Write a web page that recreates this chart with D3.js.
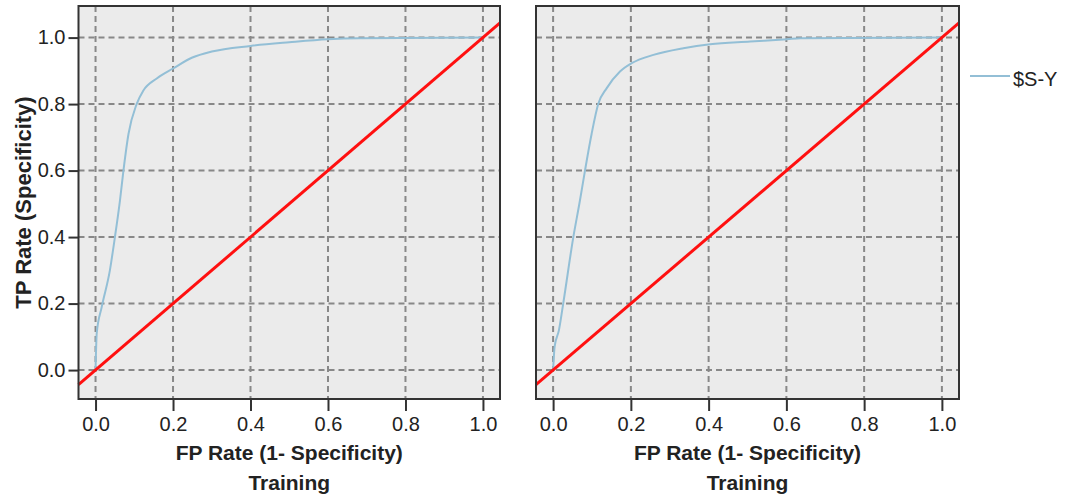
<!DOCTYPE html>
<html>
<head>
<meta charset="utf-8">
<script src="https://cdn.jsdelivr.net/npm/d3@7"></script>
<style>
    body { margin: 0; background: #fff; }
    svg { display: block; font-family: "Liberation Sans", Arial, sans-serif; }
</style>
</head>
<body>
<div id="chart"></div>
<script>
// ROC points (FP rate, TP rate)
const fprLeft  = [0, 0.003, 0.016, 0.037, 0.050, 0.063, 0.072, 0.085, 0.106, 0.123, 0.158, 0.200, 0.250, 0.300, 0.400, 0.500, 0.600, 0.680, 1.0];
const tprLeft  = [0, 0.110, 0.190, 0.300, 0.400, 0.510, 0.600, 0.710, 0.800, 0.840, 0.877, 0.907, 0.940, 0.958, 0.975, 0.986, 0.995, 0.998, 1.0];
const fprRight = [0, 0.004, 0.015, 0.026, 0.052, 0.069, 0.082, 0.099, 0.116, 0.138, 0.172, 0.202, 0.258, 0.335, 0.404, 0.507, 0.602, 0.636, 1.0];
const tprRight = [0, 0.071, 0.120, 0.200, 0.400, 0.510, 0.600, 0.710, 0.800, 0.848, 0.898, 0.923, 0.948, 0.968, 0.980, 0.988, 0.995, 0.998, 1.0];

const xTicks = [0, 0.2, 0.4, 0.6, 0.8, 1.0];
const yTicks = [0, 0.2, 0.4, 0.6, 0.8, 1.0];
const seriesName = "$S-Y";
const xTitle = "FP Rate (1- Specificity)";
const yTitle = "TP Rate (Specificity)";
const panelTitle = "Training";

const width = 1068, height = 496;
const plotTop = 6, plotBottom = 399;

const svg = d3.select("#chart").append("svg")
    .attr("width", width)
    .attr("height", height);

const y = d3.scaleLinear()
    .domain([-0.087, 1.095])
    .range([plotBottom, plotTop]);

createPanel(78.5, 500, fprLeft, tprLeft, true);
createPanel(536, 959, fprRight, tprRight, false);

// legend
const legend = svg.append("g");
legend.append("line")
    .attr("x1", 970).attr("x2", 1010)
    .attr("y1", 76).attr("y2", 76)
    .attr("stroke", "#93bfd6")
    .attr("stroke-width", 2);
legend.append("text")
    .attr("x", 1013).attr("y", 86)
    .attr("font-size", 20)
    .attr("fill", "#222")
    .text(seriesName);

function createPanel(left, right, fpr, tpr, showY) {
    const x = d3.scaleLinear()
        .domain([-0.044, 1.044])
        .range([left, right]);

    const g = svg.append("g");

    // plot background
    g.append("rect")
        .attr("x", left).attr("y", plotTop)
        .attr("width", right - left).attr("height", plotBottom - plotTop)
        .attr("fill", "#ebebeb");

    // dashed grid
    g.append("g")
      .selectAll("line")
      .data(xTicks)
      .join("line")
        .attr("x1", d => x(d)).attr("x2", d => x(d))
        .attr("y1", plotTop).attr("y2", plotBottom)
        .attr("stroke", "#888")
        .attr("stroke-width", 2)
        .attr("stroke-dasharray", "6,4");
    g.append("g")
      .selectAll("line")
      .data(yTicks)
      .join("line")
        .attr("x1", left).attr("x2", right)
        .attr("y1", d => y(d)).attr("y2", d => y(d))
        .attr("stroke", "#888")
        .attr("stroke-width", 2)
        .attr("stroke-dasharray", "6,4");

    // roc curve
    const pts = fpr.map((f, i) => [f, tpr[i]]);
    const line = d3.line()
        .x(d => x(d[0]))
        .y(d => y(d[1]))
        .curve(d3.curveMonotoneX);
    g.append("path")
        .datum(pts)
        .attr("fill", "none")
        .attr("stroke", "#93bfd6")
        .attr("stroke-width", 2)
        .attr("d", line);

    // diagonal reference line across the whole frame
    const dom = x.domain();
    g.append("line")
        .attr("x1", x(dom[0])).attr("y1", y(dom[0]))
        .attr("x2", x(dom[1])).attr("y2", y(dom[1]))
        .attr("stroke", "#ff1010")
        .attr("stroke-width", 3);

    // frame
    g.append("rect")
        .attr("x", left).attr("y", plotTop)
        .attr("width", right - left).attr("height", plotBottom - plotTop)
        .attr("fill", "none")
        .attr("stroke", "#333")
        .attr("stroke-width", 2);

    // x axis
    const xAxis = g.append("g")
        .attr("transform", `translate(0,${plotBottom})`)
        .call(d3.axisBottom(x).tickValues(xTicks).tickFormat(d3.format(".1f")).tickSize(12).tickPadding(6));
    xAxis.select(".domain").remove();
    xAxis.selectAll("line").attr("stroke", "#333").attr("stroke-width", 2);
    xAxis.selectAll("text").attr("font-size", 20).attr("fill", "#222").attr("font-family", null);

    g.append("text")
        .attr("x", (left + right) / 2).attr("y", 460)
        .attr("text-anchor", "middle")
        .attr("font-size", 21)
        .attr("font-weight", "bold")
        .attr("fill", "#222")
        .text(xTitle);
    g.append("text")
        .attr("x", (left + right) / 2).attr("y", 490)
        .attr("text-anchor", "middle")
        .attr("font-size", 21)
        .attr("font-weight", "bold")
        .attr("fill", "#222")
        .text(panelTitle);

    if (showY) {
        const yAxis = g.append("g")
            .attr("transform", `translate(${left},0)`)
            .call(d3.axisLeft(y).tickValues(yTicks).tickFormat(d3.format(".1f")).tickSize(10).tickPadding(3));
        yAxis.select(".domain").remove();
        yAxis.selectAll("line").attr("stroke", "#333").attr("stroke-width", 2);
        yAxis.selectAll("text").attr("font-size", 20).attr("fill", "#222").attr("font-family", null);

        g.append("text")
            .attr("transform", `translate(31,${(plotTop + plotBottom) / 2}) rotate(-90)`)
            .attr("text-anchor", "middle")
            .attr("font-size", 22)
            .attr("font-weight", "bold")
            .attr("fill", "#222")
            .text(yTitle);
    }
}
</script>
</body>
</html>
